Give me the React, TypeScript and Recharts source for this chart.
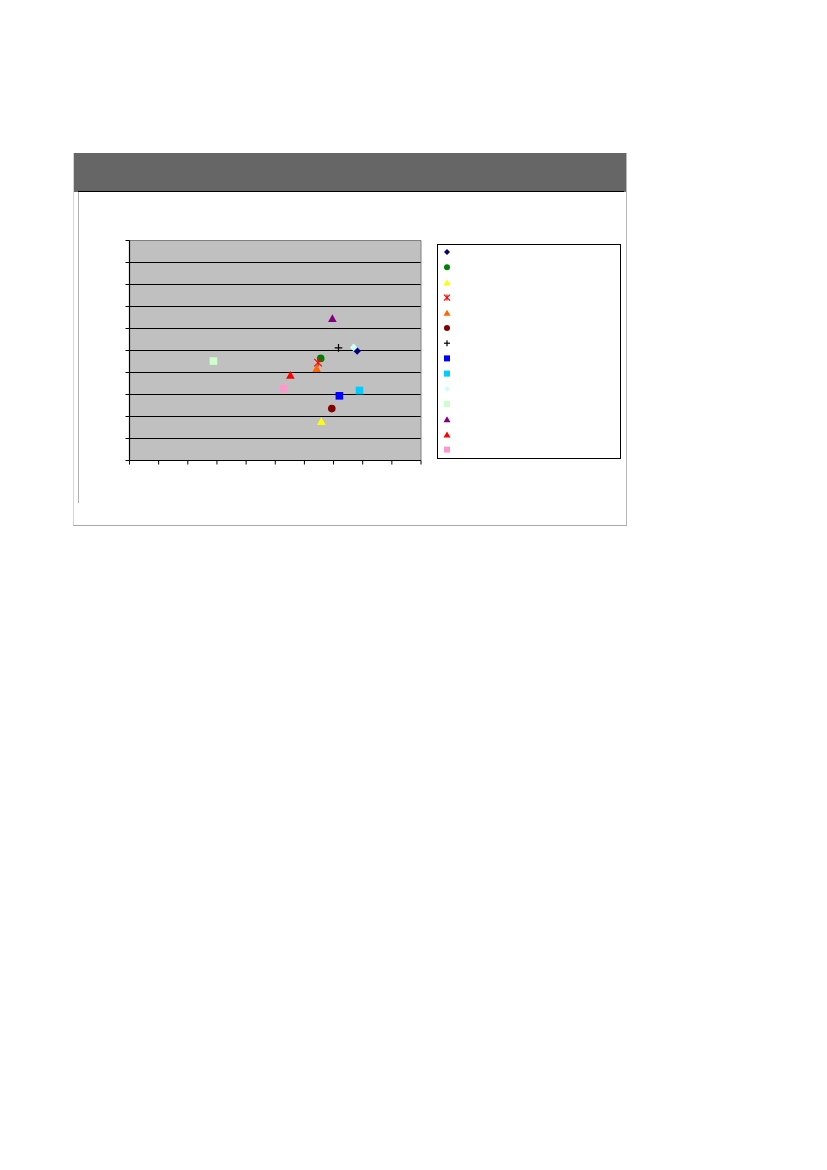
import React from 'react';
import {
  ScatterChart,
  Scatter,
  XAxis,
  YAxis,
  CartesianGrid,
  ReferenceLine,
  Legend
} from 'recharts';

// One point per series (no axis labels shown, 0-10 grid)
const xValues = [7.81, 6.56, 6.58, 6.47, 6.42, 6.94, 7.17, 7.2, 7.89, 7.69, 2.88, 6.96, 5.52, 5.3];
const yValues = [4.98, 4.64, 1.79, 4.45, 4.2, 2.36, 5.12, 2.94, 3.18, 5.14, 4.52, 6.47, 3.89, 3.27];
const seriesColors = [
  '#000080', '#008000', '#FFFF00', '#FF0000', '#FF6600', '#800000', '#000000',
  '#0000FF', '#00CCFF', '#CCFFFF', '#CCFFCC', '#800080', '#FF0000', '#FF99CC'
];
const seriesShapes = [
  'diamond', 'circle', 'triangle', 'star', 'triangle', 'circle', 'plus',
  'square', 'square', 'diamond', 'square', 'triangle', 'triangle', 'square'
];
const axisTicks = [0, 1, 2, 3, 4, 5, 6, 7, 8, 9, 10];

type MarkerProps = { kind: string; color: string; cx: number; cy: number; s?: number };

const Marker = ({ kind, color, cx, cy, s = 3.8 }: MarkerProps) => {
  switch (kind) {
    case 'diamond':
      return <polygon points={`${cx},${cy - s} ${cx + s},${cy} ${cx},${cy + s} ${cx - s},${cy}`} fill={color} />;
    case 'circle':
      return <circle cx={cx} cy={cy} r={s} fill={color} />;
    case 'triangle':
      return <polygon points={`${cx},${cy - s} ${cx + s + 0.5},${cy + s} ${cx - s - 0.5},${cy + s}`} fill={color} />;
    case 'square':
      return <rect x={cx - s} y={cy - s} width={s * 2} height={s * 2} fill={color} />;
    case 'plus':
      return (
        <g stroke={color} strokeWidth={1.2}>
          <line x1={cx - s} y1={cy} x2={cx + s} y2={cy} />
          <line x1={cx} y1={cy - s} x2={cx} y2={cy + s} />
        </g>
      );
    case 'star':
      return (
        <g stroke={color} strokeWidth={1.2}>
          <line x1={cx - s} y1={cy - s} x2={cx + s} y2={cy + s} />
          <line x1={cx - s} y1={cy + s} x2={cx + s} y2={cy - s} />
          <line x1={cx} y1={cy - s} x2={cx} y2={cy + s} />
        </g>
      );
    default:
      return null;
  }
};

const LegendBox = () => (
  <svg width={184} height={215} style={{ display: 'block' }}>
    <rect x={0.5} y={0.5} width={183} height={214} fill="#FFFFFF" stroke="#000000" strokeWidth={1} />
    {seriesShapes.map((kind, i) => (
      <Marker key={i} kind={kind} color={seriesColors[i]} cx={10} cy={8 + i * 15.2} s={3} />
    ))}
  </svg>
);

const emptyTick = () => <g />;

export default function App() {
  return (
    <div style={{ position: 'absolute', left: 0, top: 0, width: 827, height: 1170, background: '#FFFFFF' }}>
      {/* outer frame */}
      <div
        style={{
          position: 'absolute',
          left: 73,
          top: 153,
          width: 552,
          height: 372,
          borderLeft: '1px solid #D4D4D4',
          borderRight: '1px solid #B8B8B8',
          borderBottom: '1px solid #A8A8A8'
        }}
      />
      {/* header band */}
      <div style={{ position: 'absolute', left: 74, top: 153, width: 552, height: 39, background: '#666666' }} />
      <div style={{ position: 'absolute', left: 78, top: 191, width: 546, height: 1, background: '#000000' }} />
      <div style={{ position: 'absolute', left: 78, top: 192, width: 1, height: 311, background: '#B0B0B0' }} />

      <div style={{ position: 'absolute', left: 74, top: 153 }}>
        <ScatterChart width={552} height={373} margin={{ top: 87.5, right: 205, bottom: 60.5, left: 50.5 }}>
          <CartesianGrid vertical={false} horizontal fill="#C0C0C0" stroke="#000000" strokeOpacity={1} strokeWidth={1.2} />
          <XAxis
            type="number"
            dataKey="x"
            domain={[0, 10]}
            ticks={axisTicks}
            interval={0}
            height={5}
            tick={emptyTick}
            tickSize={4}
            stroke="#000000"
            axisLine={{ stroke: '#000000', strokeWidth: 1.2 }}
            tickLine={{ stroke: '#000000' }}
            allowDataOverflow
          />
          <YAxis
            type="number"
            dataKey="y"
            domain={[0, 10]}
            ticks={axisTicks}
            interval={0}
            width={5}
            tick={emptyTick}
            tickSize={4}
            stroke="#000000"
            axisLine={{ stroke: '#000000', strokeWidth: 1.2 }}
            tickLine={{ stroke: '#000000' }}
            allowDataOverflow
          />
          <ReferenceLine y={10} stroke="#808080" />
          <ReferenceLine x={10} stroke="#808080" />
          {xValues.map((x, i) => (
            <Scatter
              key={i}
              name={`Series${i + 1}`}
              data={[{ x, y: yValues[i] }]}
              fill={seriesColors[i]}
              isAnimationActive={false}
              shape={(p: any) => <Marker kind={seriesShapes[i]} color={seriesColors[i]} cx={p.cx} cy={p.cy} />}
            />
          ))}
          <Legend
            layout="vertical"
            align="center"
            verticalAlign="middle"
            content={() => <LegendBox />}
            wrapperStyle={{ position: 'absolute', left: 363, top: 91, width: 184, height: 215 }}
          />
        </ScatterChart>
      </div>
    </div>
  );
}
